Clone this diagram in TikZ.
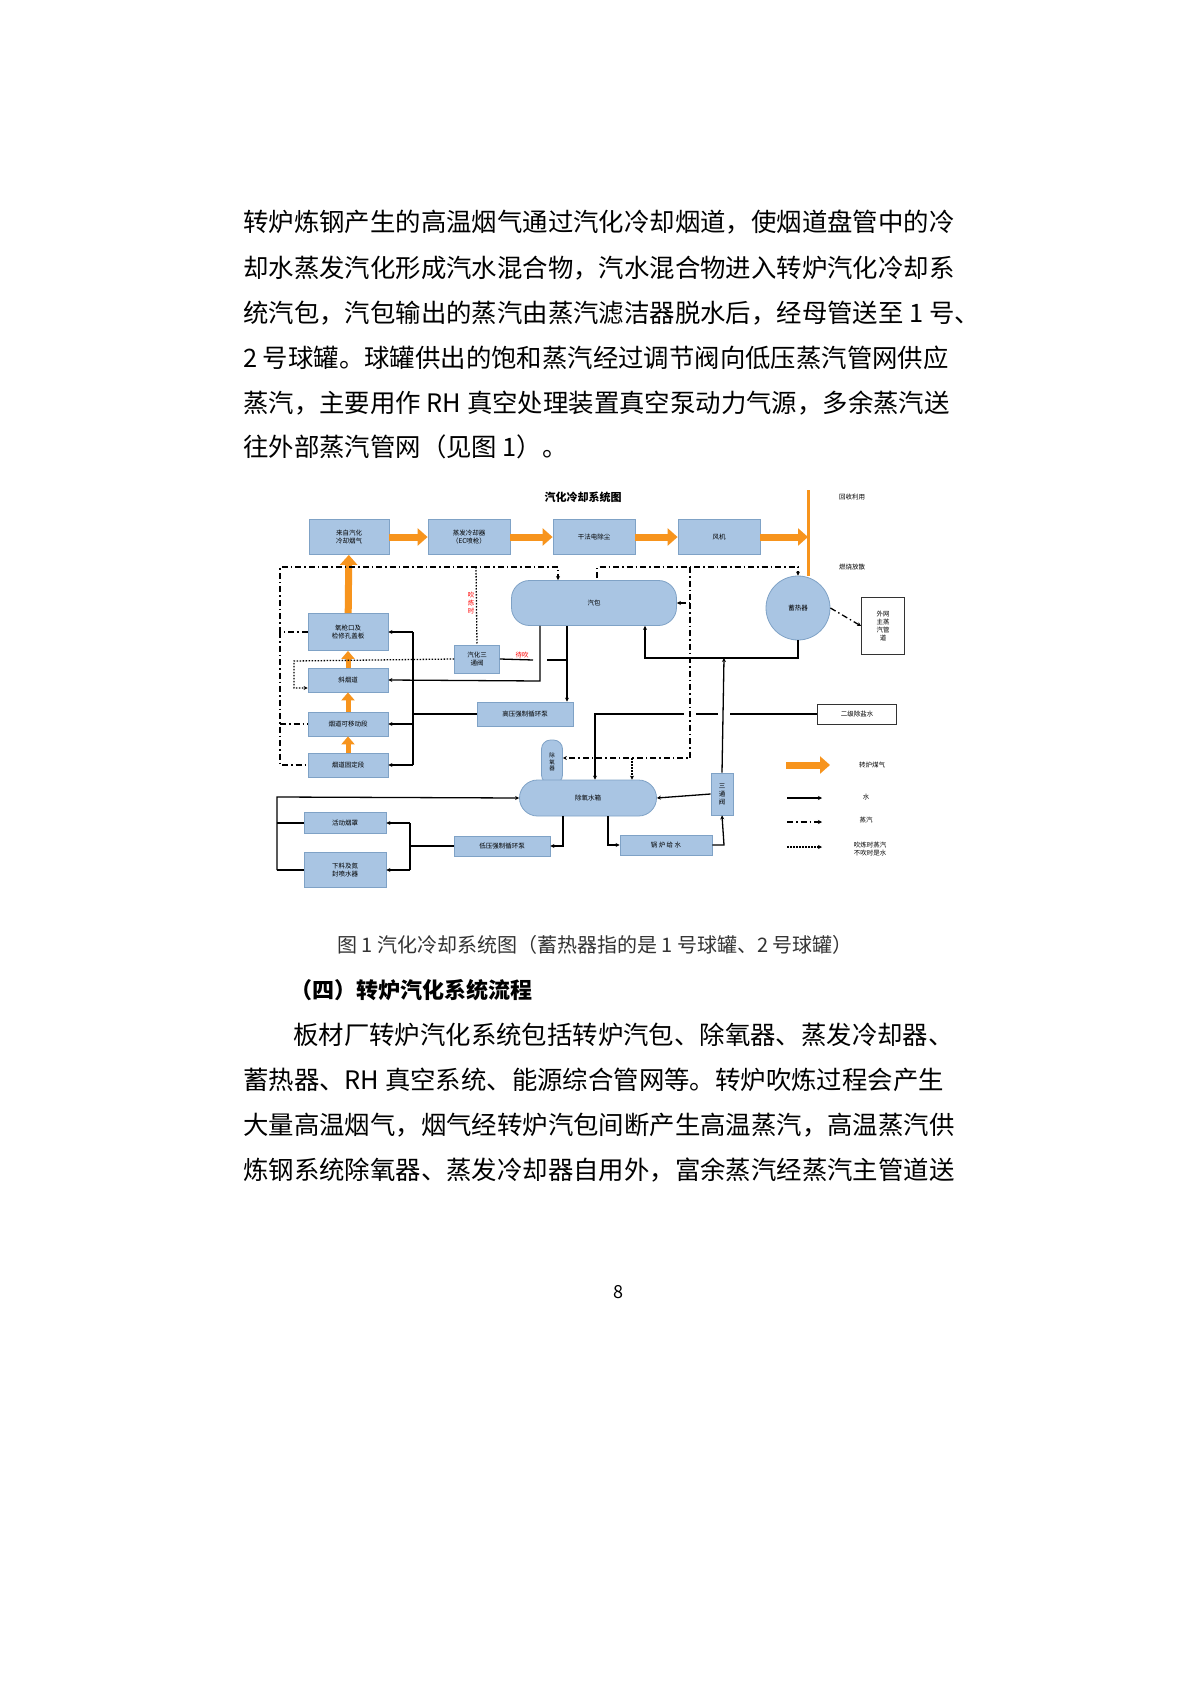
\documentclass[tikz,border=0pt]{standalone}
\usepackage{fontspec}
\setmainfont{Noto Sans CJK SC}
\usetikzlibrary{arrows.meta,shapes.geometric}
\newcommand{\bodyfont}{\fontsize{25.4}{30}\selectfont}
\newcommand{\dgfont}{\fontsize{6.5}{8}\selectfont}
\definecolor{boxfill}{HTML}{A9C5E3}
\definecolor{boxline}{HTML}{7FA2C6}
\definecolor{gasorange}{HTML}{F7941D}
\tikzset{
  txt/.style={anchor=west, inner sep=0pt, font=\bodyfont},
  unit/.style={draw=boxline, fill=boxfill, line width=0.8pt, inner sep=1pt, align=center, font=\dgfont},
  tank/.style={draw=boxline, fill=boxfill, line width=0.8pt, rounded corners=18pt, font=\dgfont},
  plain/.style={draw=black!80, line width=0.8pt, fill=white, align=center, font=\dgfont},
  gas/.style={gasorange, line width=7pt, -{Triangle[length=10pt,width=17pt]}},
  water/.style={black, line width=1.3pt},
  steam/.style={black, line width=1.3pt, dash pattern=on 6pt off 3pt on 1.5pt off 3pt},
  blow/.style={black, line width=1.3pt, dash pattern=on 1.5pt off 1.5pt},
  tip/.style={-{Stealth[length=4pt,width=4pt]}},
}
\begin{document}
\begin{tikzpicture}[x=1pt, y=-1pt]
    \useasboundingbox (0,0) rectangle (1200,1696);
    \fill[white] (0,0) rectangle (1200,1696);

    % Text above the figure.
    \node[txt] (l1) at (243,222) {转炉炼钢产生的高温烟气通过汽化冷却烟道，使烟道盘管中的冷};
    \node[txt] (l2) at (243,268) {却水蒸发汽化形成汽水混合物，汽水混合物进入转炉汽化冷却系};
    \node[txt] (l3) at (243,313) {统汽包，汽包输出的蒸汽由蒸汽滤洁器脱水后，经母管送至 1 号、};
    \node[txt] (l4) at (243,358) {2 号球罐。球罐供出的饱和蒸汽经过调节阀向低压蒸汽管网供应};
    \node[txt] (l5) at (243,403) {蒸汽，主要用作 RH 真空处理装置真空泵动力气源，多余蒸汽送};
    \node[txt] (l6) at (243,447) {往外部蒸汽管网（见图 1）。};

    % Title.
    \node[font=\fontsize{11}{12}\selectfont\bfseries] (title) at (583,497) {汽化冷却系统图};

    % Top row.
    \node[unit, minimum width=80pt, minimum height=35pt] (src) at (349,537) {来自汽化\\冷却烟气};
    \node[unit, minimum width=82pt, minimum height=35pt] (ec)  at (469,537) {蒸发冷却器\\（EC喷枪）};
    \node[unit, minimum width=82pt, minimum height=35pt] (esp) at (594,537) {干法电除尘};
    \node[unit, minimum width=82pt, minimum height=35pt] (fan) at (719,537) {风机};
    \draw[gas] (src) -- (ec);
    \draw[gas] (ec) -- (esp);
    \draw[gas] (esp) -- (fan);
    \coordinate (split) at (808,537);
    \draw[gas] (fan) -- (split);
    \draw[gasorange, line width=3pt] (808,490) -- (808,576);
    \node[font=\dgfont] (reuse) at (852,497) {回收利用};
    \node[font=\dgfont] (flare) at (852,567) {燃烧放散};

    % Drum, accumulator.
    \node[tank, minimum width=165pt, minimum height=45pt] (drum) at (594,603) {汽包};
    \node[circle, draw=boxline, fill=boxfill, line width=0.8pt, minimum size=64pt, font=\dgfont] (acc) at (798,608) {蓄热器};
    \node[plain, minimum width=43pt, minimum height=57pt] (ext) at (883,626) {外网\\主蒸\\汽管\\道};

    % Left column.
    \node[unit, minimum width=80pt, minimum height=37pt] (lance) at (348,632) {氧枪口及\\检修孔盖板};
    \node[unit, minimum width=80pt, minimum height=24pt] (incl)  at (348,680) {斜烟道};
    \node[unit, minimum width=80pt, minimum height=24pt] (move)  at (348,724) {烟道可移动段};
    \node[unit, minimum width=80pt, minimum height=24pt] (fixed) at (348,765) {烟道固定段};
    \draw[gas, line width=5pt, -{Triangle[length=8pt,width=13pt]}] (fixed) -- (move);
    \draw[gas, line width=5pt, -{Triangle[length=8pt,width=13pt]}] (move) -- (incl);
    \draw[gas, line width=5pt, -{Triangle[length=8pt,width=13pt]}] (incl) -- (lance);
    \draw[gas] (lance) -- (src);

    % Middle units.
    \node[unit, minimum width=45pt, minimum height=28pt] (tv1) at (477,659) {汽化三\\通阀};
    \node[font=\dgfont, text=red, align=center] (blowing) at (471,603) {吹\\炼\\时};
    \node[font=\dgfont, text=red] (standby) at (522,655) {待吹};
    \node[unit, minimum width=96pt, minimum height=24pt] (hpp) at (525,714) {高压强制循环泵};
    \node[plain, minimum width=79pt, minimum height=20pt] (demin) at (857,714) {二级除盐水};

    % Deaerator.
    \node[draw=boxline, fill=boxfill, line width=0.8pt, rounded corners=9pt, minimum width=21pt, minimum height=44pt, inner sep=0pt, align=center, font=\fontsize{5.5}{6.5}\selectfont] (dea) at (552,762) {除\\氧\\器};
    \node[tank, minimum width=137pt, minimum height=36pt] (tank) at (588,798) {除氧水箱};
    \node[unit, minimum width=22pt, minimum height=42pt, inner sep=0pt] (tv2) at (722,794) {三\\通\\阀};

    % Bottom row.
    \node[unit, minimum width=82pt, minimum height=21pt] (hood) at (345,823) {活动烟罩};
    \node[unit, minimum width=82pt, minimum height=35pt] (feed) at (345,870) {下料及氮\\封喷水器};
    \node[unit, minimum width=96pt, minimum height=20pt] (lpp)  at (502,846) {低压强制循环泵};
    \node[unit, minimum width=92pt, minimum height=20pt] (bfw)  at (666,845) {锅 炉 给 水};

    % Water lines.
    \draw[water, tip] (drum.south -| 567,0) -- (hpp.north -| 567,0);
    \draw[water, tip] (drum.south -| 540,0) -- (540,681) -- (incl.east);
    \draw[water] (hpp.west) -- (413,714);
    \draw[water] (413,632) -- (413,765);
    \draw[water, tip] (413,632) -- (lance.east);
    \draw[water, tip] (413,724) -- (move.east);
    \draw[water, tip] (413,765) -- (fixed.east);
    \draw[water] (tv1.east) -- (533,660);
    \draw[water] (547,660) -- (567,660);
    \draw[water, tip] (acc.south) -- (798,658) -- (645,658) -- (drum.south -| 645,0);
    \draw[water, tip] (tv2.north) -- (724,658);
    \draw[water] (demin.west) -- (730,714);
    \draw[water] (718,714) -- (696,714);
    \draw[water, tip] (684,714) -- (595,714) -- (tank.north -| 595,0);
    \draw[water, tip] (tv2.west) -- (tank.east);
    \draw[water, tip] (tank.south -| 563,0) -- (563,846) -- (lpp.east);
    \draw[water, tip] (tank.south -| 608,0) -- (608,845) -- (bfw.west);
    \draw[water, tip] (bfw.east) -- (724,845) -- (tv2.south);
    \draw[water] (lpp.west) -- (410,846);
    \draw[water] (410,823) -- (410,870);
    \draw[water, tip] (410,823) -- (hood.east);
    \draw[water, tip] (410,870) -- (feed.east);
    \draw[water] (hood.west) -- (277,823);
    \draw[water] (feed.west) -- (277,870);
    \draw[water, tip] (277,870) -- (277,797) -- (tank.west);

    % Steam lines.
    \draw[steam, tip] (lance.west) -- (280,632) -- (280,567) -- (558,567) -- (drum.north -| 558,0);
    \draw[steam] (280,632) -- (280,765) -- (fixed.west);
    \draw[steam] (280,724) -- (move.west);
    \draw[steam, tip] (597,578) -- (597,567) -- (798,567) -- (acc.north);
    \draw[steam, tip] (acc.east) -- (ext.west);
    \draw[steam, tip] (690,567) -- (690,603) -- (drum.east);
    \draw[steam, tip] (690,603) -- (690,758) -- (dea.east |- 0,758);
    \draw[blow, tip] (632,758) -- (tank.north -| 632,0);

    % Blowing-time lines.
    \draw[blow] (476,567) -- (tv1.north);
    \draw[blow, tip] (tv1.west) -- (294,661) -- (294,688) -- (incl.west |- 0,688);

    % Legend.
    \draw[gas] (786,765) -- (830,765);
    \node[font=\dgfont] (lgas) at (872,765) {转炉煤气};
    \draw[water, tip] (787,798) -- (822,798);
    \node[font=\dgfont] (lwater) at (866,797) {水};
    \draw[steam, tip] (787,822) -- (822,822);
    \node[font=\dgfont] (lsteam) at (866,820) {蒸汽};
    \draw[blow, tip] (787,847) -- (822,847);
    \node[font=\dgfont, align=center] (lblow) at (870,849) {吹炼时蒸汽\\不吹时是水};

    % Caption and text below.
    \node[font=\fontsize{20}{24}\selectfont, text=black!80] (cap) at (595,945) {图 1 汽化冷却系统图（蓄热器指的是 1 号球罐、2 号球罐）};
    \node[txt, font=\fontsize{22}{26}\selectfont\bfseries] (head) at (290,990) {（四）转炉汽化系统流程};
    \node[txt] (p1) at (293,1035) {板材厂转炉汽化系统包括转炉汽包、除氧器、蒸发冷却器、};
    \node[txt] (p2) at (243,1080) {蓄热器、RH 真空系统、能源综合管网等。转炉吹炼过程会产生};
    \node[txt] (p3) at (243,1125) {大量高温烟气，烟气经转炉汽包间断产生高温蒸汽，高温蒸汽供};
    \node[txt] (p4) at (243,1170) {炼钢系统除氧器、蒸发冷却器自用外，富余蒸汽经蒸汽主管道送};
    \node[font=\fontsize{18}{20}\selectfont] (page) at (618,1292) {8};
\end{tikzpicture}
\end{document}
